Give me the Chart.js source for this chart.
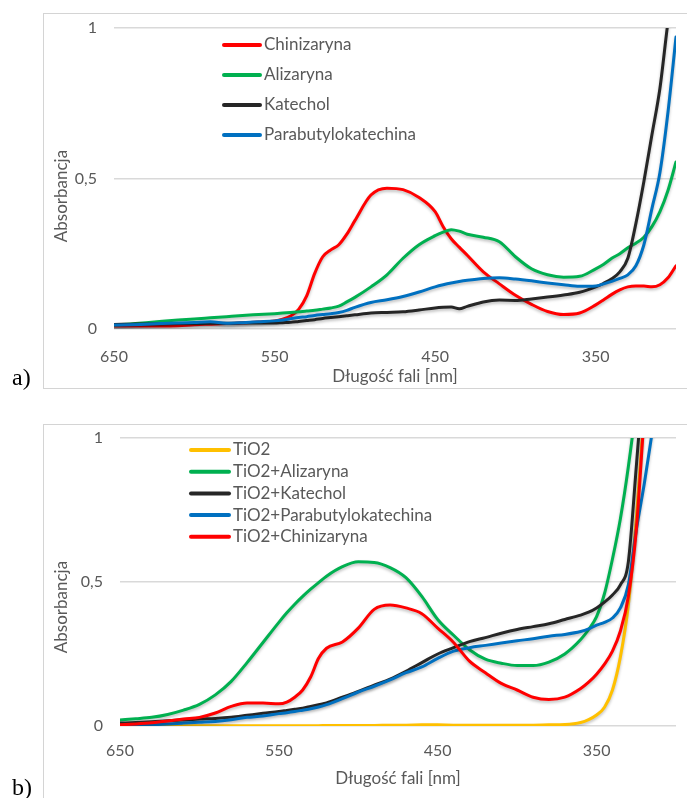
<!DOCTYPE html>
<html>
<head>
<meta charset="utf-8">
<script src="https://cdn.jsdelivr.net/npm/chart.js@4.4.1/dist/chart.umd.min.js"></script>
<style>
body { margin: 0; background: #fff; width: 687px; height: 798px; position: relative; overflow: hidden; }
.frame { position: absolute; border: 1px solid #d4d4d4; }
canvas { position: absolute; left: 0; }
.lbl { position: absolute; left: 12px; font: 24px "Liberation Serif", serif; line-height: 24px; color: #000; }
</style>
</head>
<body>
<div class="frame" style="left:43px;top:13px;width:660px;height:374px"></div>
<div class="frame" style="left:43px;top:424px;width:660px;height:400px"></div>
<canvas id="chartA" width="687" height="395" style="top:0"></canvas>
<canvas id="chartB" width="687" height="398" style="top:400px"></canvas>
<div class="lbl" style="top:365px">a)</div>
<div class="lbl" style="top:775px">b)</div>
<script>
// wavelengths [nm]
const wlA = [650, 640, 630, 620, 610, 600, 590, 580, 570, 560,
    550, 545, 540, 535, 530, 525, 520, 515, 510, 505,
    500, 490, 480, 470, 460, 450, 445, 440, 435, 430,
    420, 410, 400, 390, 380, 370, 360, 350, 345, 340,
    335, 330, 325, 320, 315, 310, 305, 300];

const chinizarynaA = [0.01, 0.01, 0.01, 0.01, 0.011, 0.014, 0.016, 0.018, 0.02, 0.023,
    0.027, 0.033, 0.043, 0.065, 0.11, 0.185, 0.24, 0.263, 0.28, 0.315,
    0.36, 0.445, 0.468, 0.463, 0.437, 0.39, 0.34, 0.30, 0.272, 0.245,
    0.19, 0.15, 0.112, 0.082, 0.058, 0.048, 0.053, 0.08, 0.097, 0.115,
    0.13, 0.14, 0.143, 0.143, 0.14, 0.147, 0.17, 0.21];
const alizarynaA = [0.013, 0.017, 0.021, 0.026, 0.03, 0.033, 0.037, 0.041, 0.045, 0.048,
    0.051, 0.053, 0.055, 0.057, 0.06, 0.062, 0.066, 0.07, 0.076, 0.09,
    0.105, 0.14, 0.18, 0.235, 0.28, 0.31, 0.322, 0.33, 0.325, 0.315,
    0.305, 0.29, 0.24, 0.2, 0.18, 0.172, 0.175, 0.2, 0.215, 0.235,
    0.25, 0.27, 0.285, 0.305, 0.34, 0.39, 0.46, 0.555];
const katecholA = [0.015, 0.016, 0.017, 0.017, 0.018, 0.018, 0.019, 0.019, 0.02, 0.02,
    0.02, 0.021, 0.022, 0.025, 0.028, 0.031, 0.035, 0.038, 0.041, 0.044,
    0.047, 0.053, 0.055, 0.057, 0.063, 0.07, 0.072, 0.073, 0.067, 0.075,
    0.09, 0.096, 0.095, 0.1, 0.106, 0.113, 0.122, 0.14, 0.152, 0.167,
    0.19, 0.235, 0.35, 0.49, 0.645, 0.8, 1.02, 1.2];
const parabutylA = [0.013, 0.014, 0.016, 0.018, 0.02, 0.022, 0.024, 0.019, 0.021, 0.024,
    0.027, 0.03, 0.034, 0.038, 0.041, 0.045, 0.048, 0.051, 0.055, 0.062,
    0.072, 0.088, 0.097, 0.108, 0.123, 0.14, 0.147, 0.153, 0.158, 0.162,
    0.168, 0.17, 0.166, 0.16, 0.153, 0.147, 0.142, 0.143, 0.15, 0.158,
    0.168, 0.18, 0.21, 0.28, 0.40, 0.52, 0.72, 0.97];

const wlB = [650, 640, 630, 620, 610, 600, 590, 580, 570, 560,
    550, 545, 540, 535, 530, 525, 520, 510, 500, 490,
    480, 470, 460, 450, 440, 430, 420, 410, 400, 390,
    380, 370, 360, 355, 350, 345, 340, 335, 330, 325,
    320, 315, 310, 300];

const tio2B = [0.001, 0.001, 0.001, 0.001, 0.001, 0.001, 0.001, 0.001, 0.001, 0.001,
    0.001, 0.001, 0.001, 0.001, 0.001, 0.001, 0.002, 0.002, 0.002, 0.002,
    0.003, 0.003, 0.004, 0.004, 0.003, 0.003, 0.003, 0.003, 0.003, 0.003,
    0.004, 0.005, 0.012, 0.022, 0.038, 0.065, 0.125, 0.24, 0.42, 0.72,
    1.1, 1.5, 1.9, 2.5];
const alizarynaB = [0.021, 0.025, 0.03, 0.04, 0.055, 0.075, 0.108, 0.155, 0.22, 0.29,
    0.36, 0.393, 0.423, 0.45, 0.475, 0.498, 0.52, 0.553, 0.57, 0.568,
    0.55, 0.515, 0.45, 0.37, 0.315, 0.265, 0.232, 0.218, 0.21, 0.21,
    0.222, 0.25, 0.3, 0.335, 0.38, 0.46, 0.58, 0.72, 0.9, 1.12,
    1.4, 1.7, 2.0, 2.5];
const katecholB = [0.01, 0.012, 0.015, 0.018, 0.021, 0.024, 0.026, 0.03, 0.037, 0.044,
    0.05, 0.054, 0.058, 0.062, 0.068, 0.074, 0.08, 0.1, 0.12, 0.142,
    0.163, 0.19, 0.22, 0.25, 0.272, 0.293, 0.307, 0.322, 0.335, 0.345,
    0.355, 0.37, 0.385, 0.395, 0.41, 0.43, 0.455, 0.49, 0.57, 0.9,
    1.25, 1.6, 2.0, 2.6];
const parabutylB = [0.0, 0.002, 0.004, 0.007, 0.01, 0.013, 0.016, 0.022, 0.03, 0.035,
    0.043, 0.046, 0.05, 0.055, 0.06, 0.066, 0.074, 0.095, 0.118, 0.138,
    0.16, 0.185, 0.205, 0.235, 0.26, 0.272, 0.28, 0.288, 0.296, 0.303,
    0.312, 0.318, 0.328, 0.337, 0.35, 0.36, 0.375, 0.41, 0.49, 0.68,
    0.84, 1.02, 1.2, 1.6];
const chinizarynaB = [0.004, 0.007, 0.011, 0.017, 0.024, 0.03, 0.045, 0.068, 0.08, 0.08,
    0.077, 0.083, 0.10, 0.125, 0.17, 0.235, 0.27, 0.292, 0.34, 0.405,
    0.42, 0.41, 0.39, 0.34, 0.29, 0.225, 0.185, 0.148, 0.125, 0.10,
    0.092, 0.1, 0.13, 0.152, 0.18, 0.215, 0.26, 0.33, 0.45, 0.68,
    1.08, 1.45, 1.8, 2.4];

const namesA = ['Chinizaryna', 'Alizaryna', 'Katechol', 'Parabutylokatechina'];
const namesB = ['TiO2', 'TiO2+Alizaryna', 'TiO2+Katechol', 'TiO2+Parabutylokatechina', 'TiO2+Chinizaryna'];
const colorsA = ['#ff0000', '#00b050', '#262626', '#0070c0'];
const colorsB = ['#ffc000', '#00b050', '#262626', '#0070c0', '#ff0000'];
const xTicks = [650, 550, 450, 350];
const yTicks = [0, 0.5, 1];

Chart.defaults.font.family = 'Lato';
Chart.defaults.color = '#595959';

// legend inside the plot, y title, and a soft shadow under the curves
const extras = {
    id: 'extras',
    beforeDatasetsDraw(chart) {
        const ctx = chart.ctx;
        ctx.save();
        ctx.shadowColor = 'rgba(0,0,0,0.25)';
        ctx.shadowBlur = 3;
        ctx.shadowOffsetY = 2;
    },
    afterDatasetsDraw(chart) {
        chart.ctx.restore();
    },
    afterDraw(chart, args, opts) {
        const ctx = chart.ctx;
        ctx.save();
        ctx.fillStyle = '#595959';
        ctx.font = '17px Lato';
        ctx.textBaseline = 'middle';
        ctx.lineCap = 'round';
        chart.data.datasets.forEach(function (ds, i) {
            const y = opts.legY + i * opts.legGap;
            ctx.strokeStyle = ds.borderColor;
            ctx.lineWidth = 4;
            ctx.beginPath();
            ctx.moveTo(opts.legX, y);
            ctx.lineTo(opts.legX + opts.legLen, y);
            ctx.stroke();
            ctx.fillText(ds.label, opts.legX + opts.legLen + 4, y);
        });
        ctx.translate(opts.titleX, opts.titleY);
        ctx.rotate(-Math.PI / 2);
        ctx.textAlign = 'center';
        ctx.fillText('Absorbancja', 0, 0);
        ctx.restore();
    }
};

function makeChart(id, wl, series, names, colors, lay) {
    const n = series.length;
    const datasets = series.map(function (vals, i) {
        return {
            label: names[i],
            data: wl.map(function (w, j) { return { x: w, y: vals[j] }; }),
            borderColor: colors[i],
            borderWidth: 3,
            borderCapStyle: 'round',
            borderJoinStyle: 'round',
            pointRadius: 0,
            cubicInterpolationMode: 'monotone',
            order: n - 1 - i
        };
    });
    return new Chart(document.getElementById(id), {
        type: 'line',
        data: { datasets: datasets },
        plugins: [extras],
        options: {
            responsive: false,
            animation: false,
            devicePixelRatio: 1,
            layout: { padding: { top: lay.top, right: 11, left: 0, bottom: 0 } },
            plugins: {
                legend: { display: false },
                tooltip: { enabled: false },
                extras: lay
            },
            scales: {
                x: {
                    type: 'linear',
                    reverse: true,
                    min: 300,
                    max: 650,
                    afterBuildTicks: function (s) { s.ticks = xTicks.map(function (v) { return { value: v }; }); },
                    afterFit: function (s) { s.height = lay.xH; },
                    grid: { display: false },
                    border: { display: false },
                    ticks: { padding: lay.tickPad, font: { size: 16 }, color: '#595959' },
                    title: { display: true, text: 'Długość fali [nm]', font: { size: 17 }, color: '#595959', padding: { bottom: lay.titlePad, top: 0 } }
                },
                y: {
                    min: 0,
                    max: 1,
                    afterBuildTicks: function (s) { s.ticks = yTicks.map(function (v) { return { value: v }; }); },
                    afterFit: function (s) { s.width = lay.yW; },
                    grid: { color: '#d9d9d9', lineWidth: 1.5, drawTicks: false },
                    border: { display: false },
                    ticks: {
                        padding: 17,
                        font: { size: 16 },
                        color: '#595959',
                        callback: function (v) { return String(v).replace('.', ','); }
                    }
                }
            }
        }
    });
}

makeChart('chartA', wlA, [chinizarynaA, alizarynaA, katecholA, parabutylA], namesA, colorsA,
    { top: 28, xH: 66, yW: 114, tickPad: 10, titlePad: 8, legX: 224, legY: 45, legGap: 30, legLen: 36, titleX: 62, titleY: 196 });
makeChart('chartB', wlB, [tio2B, alizarynaB, katecholB, parabutylB, chinizarynaB], namesB, colorsB,
    { top: 38, xH: 72, yW: 120, tickPad: 7, titlePad: 9, legX: 191, legY: 50, legGap: 21.7, legLen: 38, titleX: 62, titleY: 207 });
</script>
</body>
</html>
